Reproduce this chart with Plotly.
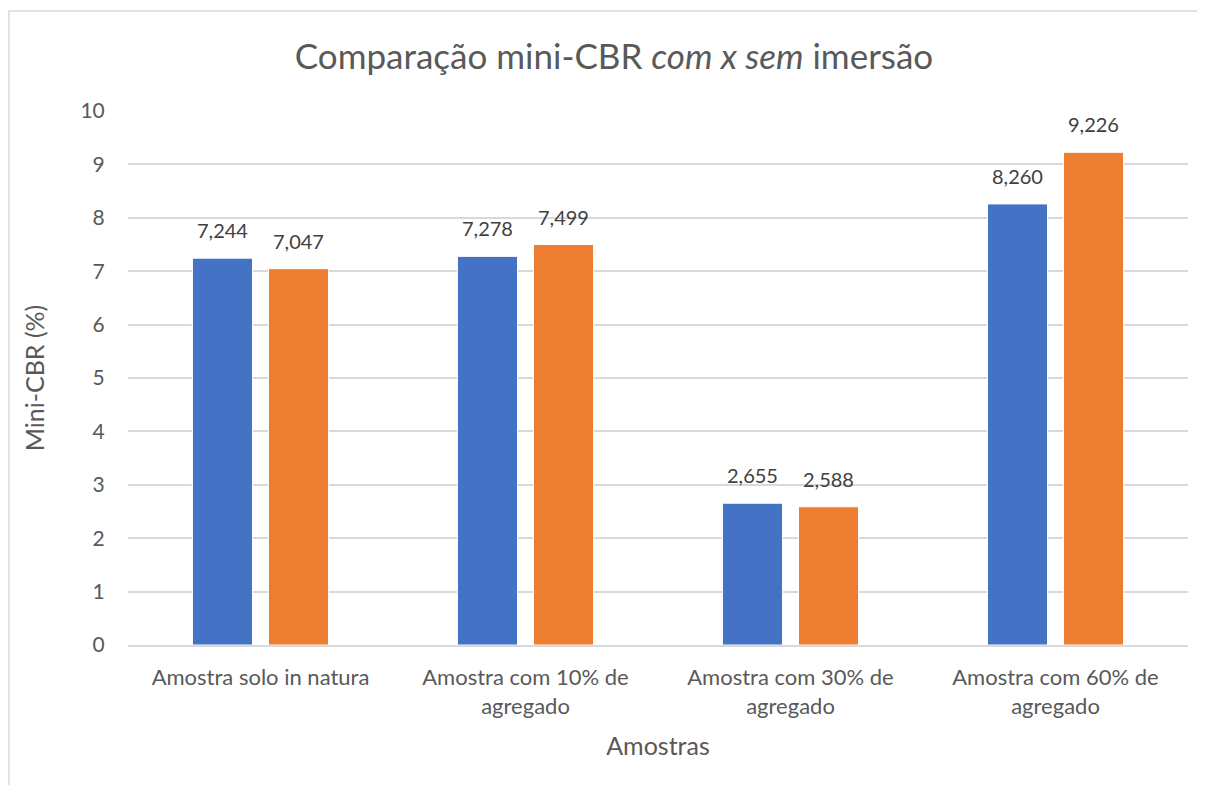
import plotly.graph_objects as go

categorias = [
    "Amostra solo in natura",
    "Amostra com 10% de<br>agregado",
    "Amostra com 30% de<br>agregado",
    "Amostra com 60% de<br>agregado",
]
com_imersao = [7.244, 7.278, 2.655, 8.260]
sem_imersao = [7.047, 7.499, 2.588, 9.226]
y_ticks = list(range(0, 11))

FONT = "Lato, 'Open Sans', sans-serif"
GREY = "#595959"

# page body has an 8px margin, so the figure is a bit smaller than the window
W, H = 1197, 777
L, R, T, B = 120, 17, 103, 140
pw, ph = W - L - R, H - T - B

fig = go.Figure()
fig.add_trace(go.Bar(x=categorias, y=com_imersao, name="Com imersão",
                     marker=dict(color="#4472C4", line=dict(color="white", width=1))))
fig.add_trace(go.Bar(x=categorias, y=sem_imersao, name="Sem imersão",
                     marker=dict(color="#ED7D31", line=dict(color="white", width=1))))

# value labels above each bar (bars sit +/-38px from category centre)
for valores, dx in [(com_imersao, -38), (sem_imersao, 38)]:
    for cat, v in zip(categorias, valores):
        fig.add_annotation(x=cat, y=v, text=f"{v:.3f}".replace(".", ","),
                           showarrow=False, xshift=dx, yshift=14, yanchor="bottom",
                           font=dict(size=20, color="#404040", family=FONT))

# chart border: only left and top edges are inside the picture
bx0 = (1 - L) / pw
by1 = (H - B - 3) / ph
fig.add_shape(type="path", xref="paper", yref="paper",
              path=f"M {bx0} {-(B + 20) / ph} L {bx0} {by1} L {(W + 20 - L) / pw} {by1}",
              line=dict(color="#D9D9D9", width=1.5), layer="below")

fig.update_layout(
    width=W, height=H,
    margin=dict(l=L, r=R, t=T, b=B),
    paper_bgcolor="white", plot_bgcolor="white",
    showlegend=False,
    barmode="group", bargap=0.426, bargroupgap=0.21,
    title=dict(text="Comparação mini-CBR <i>com x sem</i> imersão",
               x=(614 - 8 - L) / pw, xref="paper", xanchor="center",
               y=1 - 49 / H, yanchor="middle",
               font=dict(size=35, color=GREY, family=FONT)),
    font=dict(family=FONT, color=GREY),
    xaxis=dict(title=dict(text="Amostras", font=dict(size=25, color=GREY), standoff=20),
               tickfont=dict(size=22, color=GREY), showline=True, linecolor="#D9D9D9",
               linewidth=1.5, ticks="outside", ticklen=12, tickcolor="white", showgrid=False),
    yaxis=dict(title=dict(text="Mini-CBR (%)", font=dict(size=25, color=GREY), standoff=28),
               range=[0, 10], tickvals=y_ticks, tickfont=dict(size=21, color=GREY),
               gridcolor="#D9D9D9", gridwidth=1.5, zeroline=False, ticks="outside",
               ticklen=18, tickcolor="white", showline=False),
)

fig.write_html("out.html")
